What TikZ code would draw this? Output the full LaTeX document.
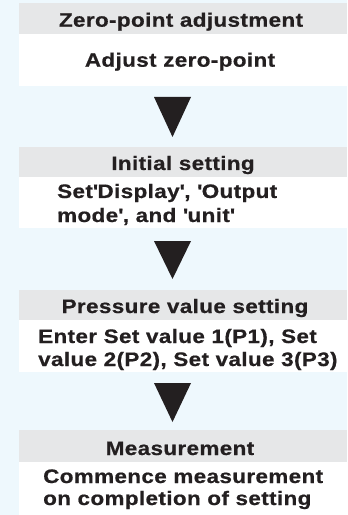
\documentclass[tikz,border=0pt]{standalone}
\usepackage{fontspec}
\setmainfont{Liberation Sans}[FakeStretch=1.15, LetterSpace=2, FakeBold=0.6]
\definecolor{bgblue}{HTML}{EEF8FD}
\definecolor{hdgray}{HTML}{E6E7E8}
\definecolor{ink}{HTML}{231F20}
\begin{document}
\begin{tikzpicture}[x=1bp,y=-1bp,
  hdr/.style={fill=hdgray, draw=none},
  bdy/.style={fill=white, draw=none},
  lbl/.style={inner sep=0pt, text=ink, font=\fontsize{19.5bp}{23bp}\selectfont\bfseries},
  tri/.style={fill=ink, draw=none}]
\fill[bgblue] (0,0) rectangle (347,515);
\useasboundingbox (0,0) rectangle (347,515);
% boxes
\fill[hdr] (19,3) rectangle (347,34);
\fill[bdy] (19,34) rectangle (347,86);
\fill[hdr] (19,147) rectangle (347,177);
\fill[bdy] (19,177) rectangle (347,228);
\fill[hdr] (19,290) rectangle (347,320);
\fill[bdy] (19,320) rectangle (347,372);
\fill[hdr] (19,430) rectangle (347,462);
\fill[bdy] (19,462) rectangle (347,515);
% texts
\node[lbl, anchor=base] (h1) at (181,26.7) {Zero-point adjustment};
\node[lbl, anchor=base] (b1) at (180,66.7) {Adjust zero-point};
\node[lbl, anchor=base] (h2) at (183,170) {Initial setting};
\node[lbl, anchor=base west] (b2a) at (57,198) {Set\textquotesingle Display\textquotesingle, \textquotesingle Output};
\node[lbl, anchor=base west] (b2b) at (57,222) {mode\textquotesingle, and \textquotesingle unit\textquotesingle};
\node[lbl, anchor=base] (h3) at (185,313) {Pressure value setting};
\node[lbl, anchor=base west] (b3a) at (38,343) {Enter Set value 1(P1), Set};
\node[lbl, anchor=base west] (b3b) at (38,366) {value 2(P2), Set value 3(P3)};
\node[lbl, anchor=base] (h4) at (180,455) {Measurement};
\node[lbl, anchor=base west] (b4a) at (43,483) {Commence measurement};
\node[lbl, anchor=base west] (b4b) at (43,505) {on completion of setting};
% arrows
\fill[tri] (154,97) -- (191,97) -- (172.5,137) -- cycle;
\fill[tri] (154,241) -- (191,241) -- (172.5,279) -- cycle;
\fill[tri] (154,383) -- (191,383) -- (172.5,422) -- cycle;
\end{tikzpicture}
\end{document}
